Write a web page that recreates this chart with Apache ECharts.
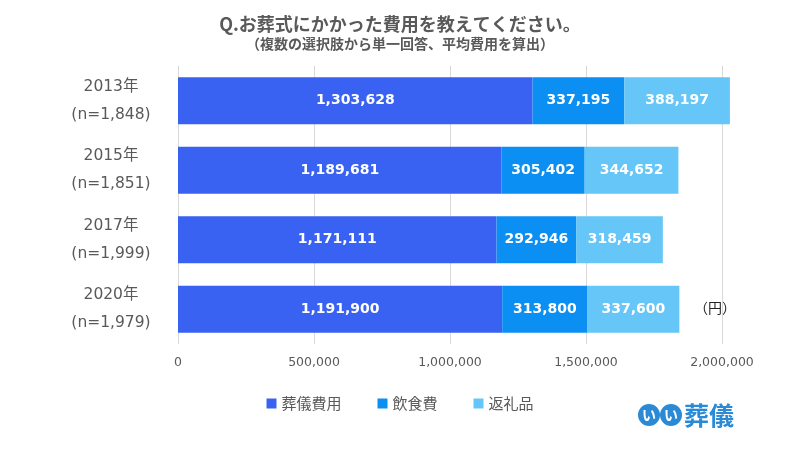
<!DOCTYPE html>
<html>
<head>
<meta charset="utf-8">
<script src="https://cdn.jsdelivr.net/npm/echarts@6/dist/echarts.min.js"></script>
<style>
  html, body { margin: 0; padding: 0; background: #fff; }
  #main { width: 800px; height: 456px; }
</style>
</head>
<body>
<div id="main"></div>
<script>
var years = ['2013年\n(n=1,848)', '2015年\n(n=1,851)', '2017年\n(n=1,999)', '2020年\n(n=1,979)'];
var funeral = [1303628, 1189681, 1171111, 1191900];
var food = [337195, 305402, 292946, 313800];
var gifts = [388197, 344652, 318459, 337600];
var seriesNames = ['葬儀費用', '飲食費', '返礼品'];
var colors = ['#3a62f2', '#0b8ff2', '#65c6f7'];

var font = '"Noto Sans CJK JP", "Noto Sans", sans-serif';
var numFont = '"DejaVu Sans", "Noto Sans CJK JP", sans-serif';
var grey = '#595959';

var myChart = echarts.init(document.getElementById('main'));

function makeSeries(name, data, color) {
  return {
    name: name,
    type: 'bar',
    stack: 'total',
    barWidth: 47,
    clip: false,
    itemStyle: { color: color },
    label: {
      show: true,
      position: 'inside',
      color: '#fff',
      fontFamily: numFont,
      fontWeight: 'bold',
      fontSize: 14,
      formatter: function (p) {
        return p.value.toLocaleString('en-US');
      }
    },
    data: data
  };
}

var option = {
  backgroundColor: '#fff',
  textStyle: { fontFamily: font },
  title: {
    text: 'Q.お葬式にかかった費用を教えてください。',
    subtext: '（複数の選択肢から単一回答、平均費用を算出）',
    left: 'center',
    top: 10,
    itemGap: 4,
    textStyle: { color: grey, fontSize: 18, fontWeight: 'bold', fontFamily: font },
    subtextStyle: { color: grey, fontSize: 14, fontWeight: 'bold', fontFamily: font }
  },
  legend: {
    bottom: 40,
    left: 'center',
    icon: 'rect',
    itemWidth: 10,
    itemHeight: 10,
    itemGap: 36,
    textStyle: { color: grey, fontSize: 15, fontFamily: font },
    data: seriesNames
  },
  grid: {
    left: 178,
    right: 78,
    top: 66,
    bottom: 112,
    containLabel: false
  },
  xAxis: {
    type: 'value',
    min: 0,
    max: 2000000,
    interval: 500000,
    axisLine: { show: false },
    axisTick: { show: false },
    splitLine: { lineStyle: { color: '#d9d9d9' } },
    axisLabel: {
      color: grey,
      fontSize: 12.5,
      fontFamily: numFont,
      margin: 12,
      formatter: function (v) { return v.toLocaleString('en-US'); }
    }
  },
  yAxis: {
    type: 'category',
    inverse: true,
    data: years,
    axisLine: { show: false },
    axisTick: { show: false },
    axisLabel: {
      color: grey,
      fontSize: 15.5,
      fontFamily: numFont,
      lineHeight: 28,
      margin: 67,
      align: 'center'
    }
  },
  graphic: [
    {
      type: 'text',
      left: 694,
      top: 301,
      style: { text: '（円）', fill: '#222', fontSize: 14, fontFamily: font }
    },
    {
      type: 'circle',
      shape: { cx: 649, cy: 415, r: 11 },
      style: { fill: '#2a8ad6' }
    },
    {
      type: 'circle',
      shape: { cx: 671, cy: 415, r: 11 },
      style: { fill: '#2a8ad6' }
    },
    {
      type: 'text',
      x: 649, y: 415,
      style: { text: 'い', fill: '#fff', fontSize: 14, fontWeight: 'bold', fontFamily: font, align: 'center', verticalAlign: 'middle' }
    },
    {
      type: 'text',
      x: 671, y: 415,
      style: { text: 'い', fill: '#fff', fontSize: 14, fontWeight: 'bold', fontFamily: font, align: 'center', verticalAlign: 'middle' }
    },
    {
      type: 'text',
      x: 684, y: 415,
      style: { text: '葬儀', fill: '#2a8ad6', fontSize: 25, fontWeight: 'bold', fontFamily: font, verticalAlign: 'middle' }
    }
  ],
  series: [
    makeSeries(seriesNames[0], funeral, colors[0]),
    makeSeries(seriesNames[1], food, colors[1]),
    makeSeries(seriesNames[2], gifts, colors[2])
  ]
};

myChart.setOption(option);
</script>
</body>
</html>
